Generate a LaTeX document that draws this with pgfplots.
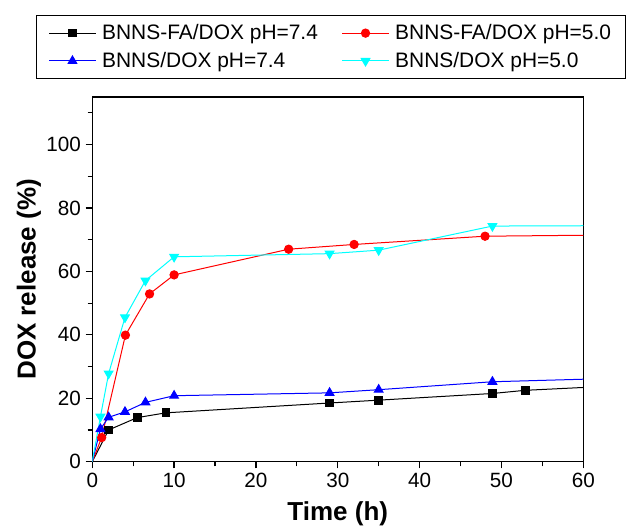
\documentclass[border=0pt]{standalone}
\usepackage{fontspec}
\setmainfont{Liberation Sans}
\usepackage{pgfplots}
\pgfplotsset{compat=1.18}
\definecolor{mycyan}{RGB}{0,255,255}
\definecolor{myred}{RGB}{255,0,0}
\definecolor{myblue}{RGB}{0,0,255}
\begin{document}
\begin{tikzpicture}[x=1pt,y=1pt]
\path[use as bounding box] (0,0) rectangle (479.25,393.75);
\begin{axis}[
  at={(69.2pt,47.5pt)}, anchor=south west,
  scale only axis, width=368.25pt, height=273.5pt,
  xmin=0, xmax=60, ymin=0, ymax=115,
  xtick={0,10,...,60}, ytick={0,20,...,100},
  minor xtick={5,15,...,55}, minor ytick={10,30,...,110},
  tick align=outside, tick pos=left,
  major tick length=5pt, minor tick length=3.5pt,
  every tick/.style={black, line width=0.9pt},
  axis line style={line width=1pt},
  ticklabel style={font=\fontsize{15.5}{18}\selectfont},
  /pgf/number format/assume math mode=true,
  xlabel={\bfseries Time (h)},
  ylabel={\bfseries DOX release (\%)},
  label style={font=\fontsize{19.5}{22}\selectfont},
  xlabel style={at={(axis description cs:0.5,-0.142)}, anchor=center},
  ylabel style={at={(axis description cs:-0.1289,0.5)}, anchor=center},
  legend columns=2,
  legend cell align=left,
  legend image code/.code={\draw[mark repeat=2,mark phase=2] plot coordinates {(0pt,0pt)(17.6pt,0pt)(35.2pt,0pt)}; \path (37.5pt,0pt);},
  legend style={at={(axis description cs:-0.1146,1.2249)}, anchor=north west,
    font=\fontsize{15.7}{19}\selectfont, draw=black, line width=0.75pt,
    inner xsep=9pt, inner ysep=4.8pt, row sep=4pt,
    /tikz/every even column/.append style={column sep=15.7pt}},
]
% segments from the origin (no marker there)
\addplot[black, line width=0.75pt, forget plot] coordinates {(0,0)(2,10)};
\addplot[myred, line width=0.75pt, forget plot] coordinates {(0,0)(1.15,7.6)};
\addplot[myblue, line width=0.75pt, forget plot] coordinates {(0,0)(1,10.3)};
\addplot[mycyan, line width=0.75pt, forget plot] coordinates {(0,0)(1,14.2)};
% segments running on to the right edge
\addplot[black, line width=0.75pt, forget plot] coordinates {(52.9,22.5)(60,23.4)};
\addplot[myred, line width=0.75pt, forget plot] coordinates {(48,71.1)(60,71.4)};
\addplot[myblue, line width=0.75pt, forget plot] coordinates {(48.9,25.2)(60,26.0)};
\addplot[mycyan, line width=0.75pt, forget plot] coordinates {(48.9,74.3)(60,74.4)};
\addplot[black, line width=0.75pt, mark=square*, mark size=2.9pt]
  coordinates {(2,10)(5.5,13.9)(9,15.4)(29,18.5)(35,19.4)(48.9,21.5)(52.9,22.5)};
\addlegendentry{BNNS-FA/DOX pH=7.4}
\addplot[myred, line width=0.75pt, mark=*, mark size=3.1pt]
  coordinates {(1.15,7.6)(4.05,39.9)(7,52.9)(10,58.9)(24,67.0)(32,68.5)(48,71.1)};
\addlegendentry{BNNS-FA/DOX pH=5.0}
\addplot[myblue, line width=0.75pt, mark=triangle*, mark size=3.75pt]
  coordinates {(1,10.3)(2,14.0)(4,15.7)(6.5,18.7)(10,20.8)(29,21.7)(35,22.7)(48.9,25.2)};
\addlegendentry{BNNS/DOX pH=7.4}
\addplot[mycyan, line width=0.75pt, mark=triangle*, mark size=3.75pt, mark options={rotate=180}]
  coordinates {(1,14.2)(2,27.8)(4,45.5)(6.5,57.1)(10,64.6)(29,65.6)(35,66.7)(48.9,74.3)};
\addlegendentry{BNNS/DOX pH=5.0}
\end{axis}
\end{tikzpicture}
\end{document}
